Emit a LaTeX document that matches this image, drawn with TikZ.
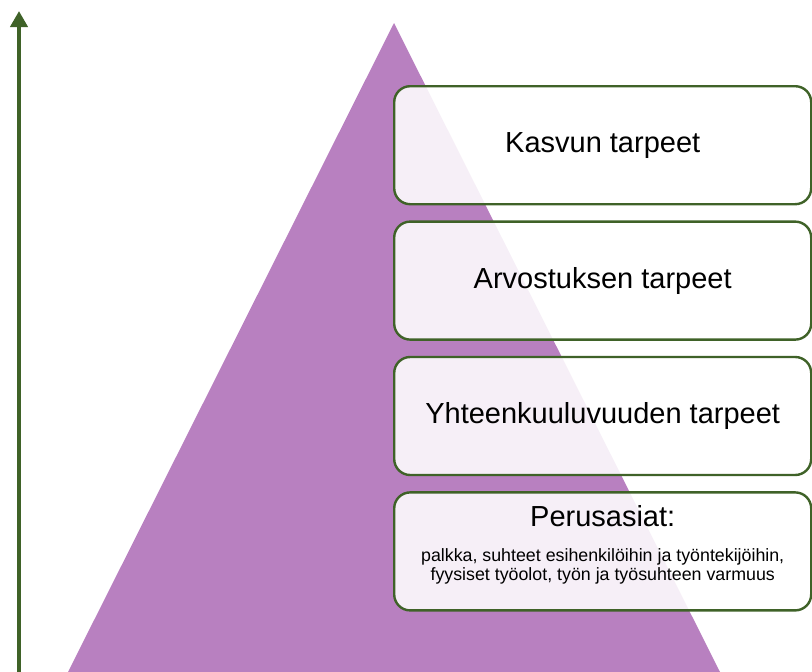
\documentclass[tikz,border=0pt]{standalone}
\usepackage{fontspec}
\setmainfont{Liberation Sans}
\usetikzlibrary{arrows.meta,positioning}
\definecolor{pyramid}{HTML}{B880C0}
\definecolor{leaf}{HTML}{3F6228}

\begin{document}
\begin{tikzpicture}[x=1pt,y=-1pt,
  needbox/.style={draw=leaf, line width=2.4pt, rounded corners=16pt, fill=white, fill opacity=0.88, text opacity=1,
    minimum width=417pt, minimum height=118pt, inner sep=0pt, align=center, anchor=north west,
    font=\fontsize{29}{34}\selectfont}]
\useasboundingbox (0,0) rectangle (812,672);
% pyramid
\fill[pyramid] (394,23) -- (720,672) -- (68,672) -- cycle;
% axis
\coordinate (axisbottom) at (19,672);
\coordinate (axistop) at (19,11);
\draw[leaf, line width=4pt, -{Triangle[length=16pt,width=17pt]}] (axisbottom) -- (axistop);
% levels
\node[needbox] (growth) at (393,85) {Kasvun tarpeet};
\node[needbox, below=15pt of growth.south west, anchor=north west] (esteem) {Arvostuksen tarpeet};
\node[needbox, below=15pt of esteem.south west, anchor=north west] (belong) {Yhteenkuuluvuuden tarpeet};
\node[needbox, below=15pt of belong.south west, anchor=north west] (basics) {};
\node[font=\fontsize{29}{34}\selectfont] (basicstitle) at ([yshift=-25pt]basics.north) {Perusasiat:};
\node[font=\fontsize{17.8}{19.5}\selectfont, align=center] (basicstext) at ([yshift=-75pt]basics.north)
  {palkka, suhteet esihenkilöihin ja työntekijöihin,\\ fyysiset työolot, työn ja työsuhteen varmuus};
\end{tikzpicture}
\end{document}
